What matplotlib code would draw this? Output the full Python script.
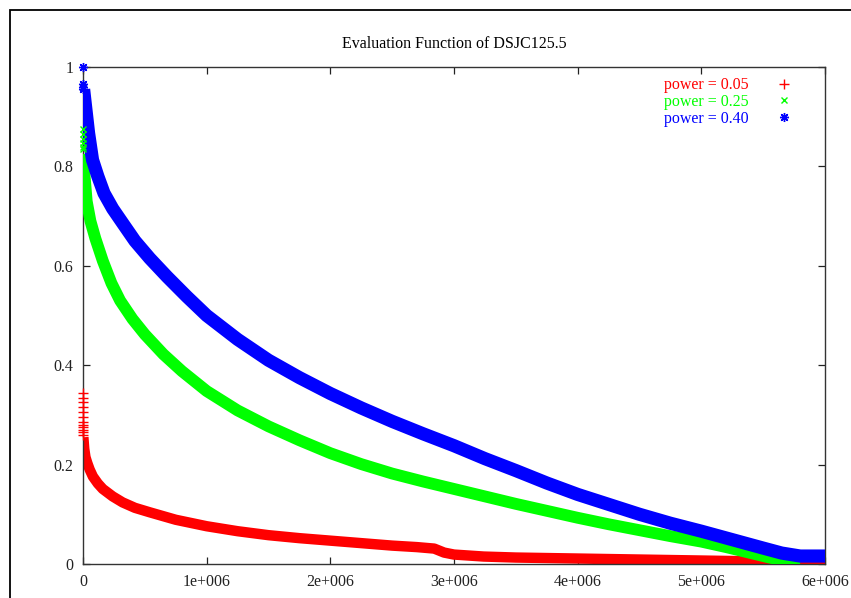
import matplotlib
matplotlib.use("Agg")
import matplotlib.pyplot as plt

plt.rcParams['font.family'] = ['Liberation Serif', 'DejaVu Serif']

# evaluation value vs. iteration for three power settings (x in units of 1e6)
red_x = [0.003, 0.01, 0.02, 0.035, 0.054, 0.08, 0.12, 0.16, 0.24, 0.32, 0.42, 0.54, 0.75,
         1.0, 1.25, 1.5, 1.75, 2.0, 2.25, 2.5, 2.7, 2.84, 2.92, 3.0, 3.24, 3.5, 4.0, 4.5,
         5.0, 5.5, 6.0]
red_y = [0.255, 0.232, 0.215, 0.203, 0.19, 0.176, 0.162, 0.151, 0.136, 0.124, 0.113, 0.104,
         0.089, 0.076, 0.066, 0.058, 0.052, 0.047, 0.042, 0.037, 0.034, 0.031, 0.023, 0.019,
         0.015, 0.013, 0.011, 0.009, 0.007, 0.005, 0.003]
red_first_y = [0.345, 0.335, 0.325, 0.315, 0.305, 0.295, 0.285, 0.28, 0.275, 0.27, 0.265, 0.26]

green_x = [0.003, 0.01, 0.03, 0.06, 0.1, 0.16, 0.23, 0.3, 0.4, 0.5, 0.65, 0.8, 1.0, 1.25,
           1.5, 1.75, 2.0, 2.25, 2.5, 2.75, 3.0, 3.25, 3.5, 3.75, 4.0, 4.25, 4.5, 4.75, 5.0,
           5.2, 5.4, 5.55, 5.7, 5.8]
green_y = [0.825, 0.79, 0.73, 0.69, 0.655, 0.61, 0.565, 0.53, 0.493, 0.462, 0.422, 0.388,
           0.348, 0.309, 0.277, 0.249, 0.223, 0.201, 0.182, 0.166, 0.151, 0.136, 0.121, 0.107,
           0.093, 0.08, 0.068, 0.056, 0.045, 0.034, 0.022, 0.013, 0.006, 0.003]
green_first_y = [0.875, 0.865, 0.855, 0.848, 0.84, 0.835]

blue_x = [0.005, 0.03, 0.045, 0.077, 0.12, 0.17, 0.24, 0.32, 0.42, 0.54, 0.68, 0.84, 1.0,
          1.25, 1.5, 1.75, 2.0, 2.25, 2.5, 2.75, 3.0, 3.25, 3.5, 3.75, 4.0, 4.25, 4.5, 4.75,
          5.0, 5.25, 5.5, 5.65, 5.8, 6.0]
blue_y = [0.955, 0.90, 0.867, 0.813, 0.78, 0.746, 0.715, 0.686, 0.65, 0.615, 0.578, 0.538,
          0.50, 0.452, 0.41, 0.375, 0.343, 0.314, 0.287, 0.262, 0.238, 0.212, 0.188, 0.163,
          0.14, 0.12, 0.10, 0.082, 0.066, 0.049, 0.032, 0.022, 0.016, 0.016]
blue_first_y = [1.0, 0.965, 0.96, 0.955]

labels = ['power = 0.05', 'power = 0.25', 'power = 0.40']
xtick_vals = [0, 1, 2, 3, 4, 5, 6]
xtick_labels = ['0', '1e+006', '2e+006', '3e+006', '4e+006', '5e+006', '6e+006']
ytick_vals = [0, 0.2, 0.4, 0.6, 0.8, 1]
ytick_labels = ['0', '0.2', '0.4', '0.6', '0.8', '1']

RED, GREEN, BLUE = '#ff0000', '#00ff00', '#0000ff'
STAR = (8, 2, 0)

fig = plt.figure(figsize=(8.51, 5.98), dpi=100)
ax = fig.add_axes([83 / 851, 34 / 598, 742 / 851, 497 / 598])

def scale(xs):
    return [v * 1e6 for v in xs]

band = dict(solid_capstyle='butt', solid_joinstyle='round')
ax.plot(scale(red_x), red_y, color=RED, lw=7.5, zorder=2, **band)
ax.plot(scale(green_x), green_y, color=GREEN, lw=8.5, zorder=3, **band)
ax.plot(scale(blue_x), blue_y, color=BLUE, lw=9.5, zorder=4, **band)

# sparse first samples
h1, = ax.plot([0] * len(red_first_y), red_first_y, ls='none', marker='+', ms=6.5,
              mew=1, color=RED, clip_on=False, zorder=5, label=labels[0])
h2, = ax.plot([0] * len(green_first_y), green_first_y, ls='none', marker='x', ms=5,
              mew=1, color=GREEN, clip_on=False, zorder=5, label=labels[1])
h3, = ax.plot([0] * len(blue_first_y), blue_first_y, ls='none', marker=STAR, ms=6.5,
              mew=1, color=BLUE, clip_on=False, zorder=6, label=labels[2])

leg = ax.legend(handles=[h1, h2, h3], loc='upper right', bbox_to_anchor=(0.957, 0.979),
                frameon=False, markerfirst=False, handlelength=1.2, handletextpad=1.6,
                labelspacing=0.04, borderpad=0, borderaxespad=0, fontsize=11.5,
                labelcolor='linecolor', alignment='right')
for t in leg.get_texts():
    t.set_ha('right')

ax.set_xlim(0, 6e6)
ax.set_ylim(0, 1)
ax.set_xticks([v * 1e6 for v in xtick_vals])
ax.set_xticklabels(xtick_labels)
ax.set_yticks(ytick_vals)
ax.set_yticklabels(ytick_labels)
ax.tick_params(direction='in', length=5, width=0.9, top=True, right=True,
               labelsize=11.5, colors='#222222', pad=7)
for s in ax.spines.values():
    s.set_linewidth(1.0)
    s.set_color('#333333')

ax.set_title('Evaluation Function of DSJC125.5', fontsize=11.5, pad=14)

# outer frame around the plot
fig.add_artist(plt.Rectangle((10 / 851, -0.1), 1.2, 1.1 - 10 / 598, transform=fig.transFigure,
                             fill=False, lw=1.3, ec='black'))

fig.savefig('out.png', dpi=100)
